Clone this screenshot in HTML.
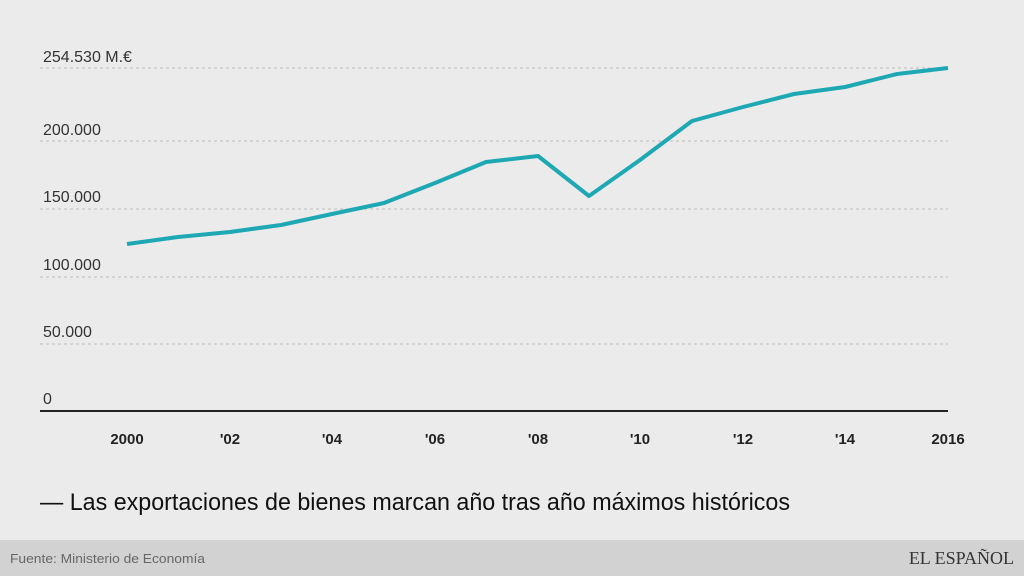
<!DOCTYPE html>
<html><head><meta charset="utf-8"><style>
body{margin:0;width:1024px;height:576px;background:#ebebeb;overflow:hidden;font-family:"Liberation Sans",sans-serif}
</style></head><body>
<svg width="1024" height="576" style="position:absolute;left:0;top:0">
<rect width="1024" height="540" fill="#ebebeb"/>
<rect y="540" width="1024" height="36" fill="#d2d2d2"/>
<g stroke="#bdbdbd" stroke-dasharray="3,3" stroke-width="1">
<line x1="40" x2="948" y1="68" y2="68"/><line x1="40" x2="948" y1="141" y2="141"/>
<line x1="40" x2="948" y1="209" y2="209"/><line x1="40" x2="948" y1="277" y2="277"/>
<line x1="40" x2="948" y1="344" y2="344"/></g>
<line x1="40" x2="948" y1="411" y2="411" stroke="#222" stroke-width="2"/>
<g font-size="16" fill="#333">
<text x="43" y="62">254.530 M.€</text><text x="43" y="135">200.000</text>
<text x="43" y="202">150.000</text><text x="43" y="270">100.000</text>
<text x="43" y="337">50.000</text><text x="43" y="404">0</text></g>
<g font-size="15" font-weight="bold" fill="#222" text-anchor="middle">
<text x="127" y="444">2000</text><text x="230" y="444">'02</text><text x="332" y="444">'04</text>
<text x="435" y="444">'06</text><text x="538" y="444">'08</text><text x="640" y="444">'10</text>
<text x="743" y="444">'12</text><text x="845" y="444">'14</text><text x="948" y="444">2016</text></g>
<polyline fill="none" stroke="#1ea8b4" stroke-width="4" stroke-linejoin="round" points="127,244 178,237 230,232 281,225 332,214 384,203 435,183 486,162 538,156 589,196 640,160 692,121 743,107 794,94 845,87 897,74 948,68"/>
<text x="40" y="510" font-size="24" fill="#111" textLength="750" lengthAdjust="spacingAndGlyphs">— Las exportaciones de bienes marcan año tras año máximos históricos</text>
<text x="10" y="563" font-size="13" fill="#666" textLength="195" lengthAdjust="spacingAndGlyphs">Fuente: Ministerio de Economía</text>
<text x="1014" y="564" font-size="18" fill="#333" text-anchor="end" font-family="Liberation Serif,serif">EL ESPAÑOL</text>
</svg>
</body></html>
